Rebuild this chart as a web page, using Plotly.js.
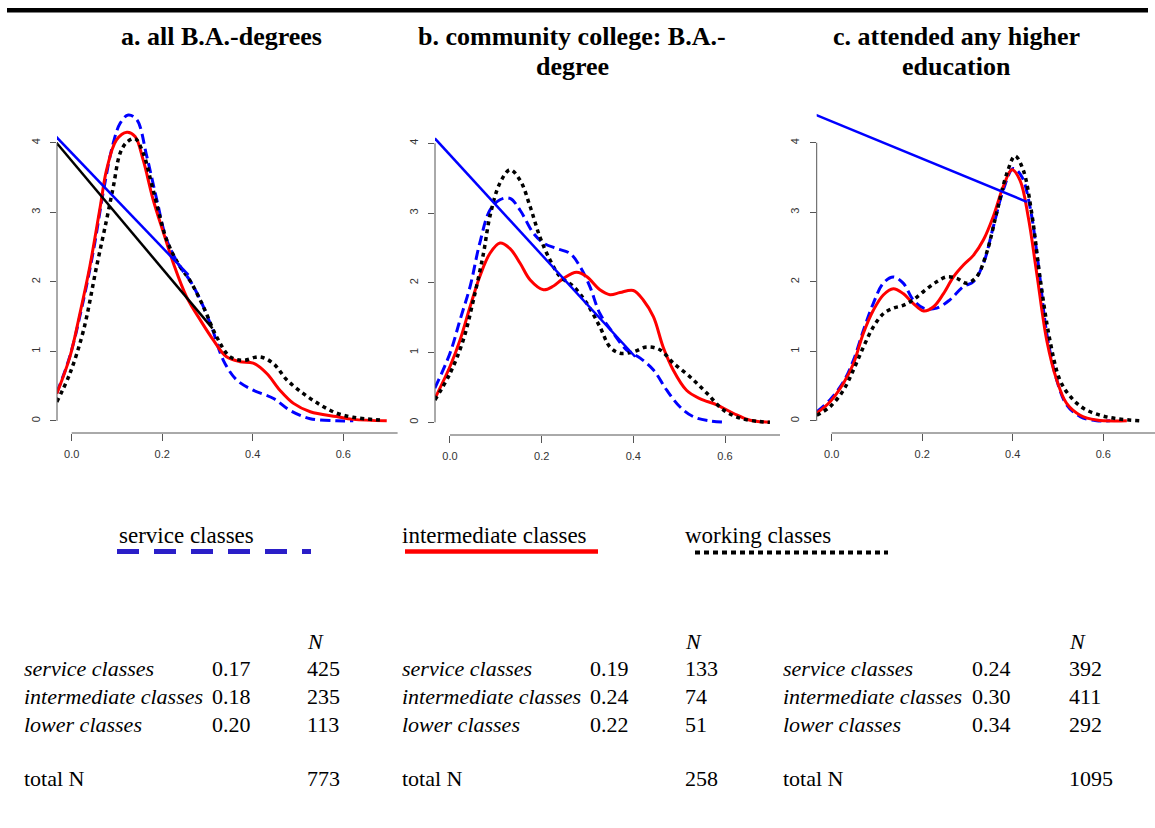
<!DOCTYPE html>
<html><head><meta charset="utf-8">
<script src="https://cdn.plot.ly/plotly-3.0.1.min.js"></script>
<style>html,body{margin:0;padding:0;background:#fff}#chart{width:1155px;height:828px}</style>
</head><body><div id="chart"></div><script>
// ---------- data ----------
const panelTitleLines = [["a. all B.A.-degrees"], ["b. community college: B.A.-", "degree"], ["c. attended any higher", "education"]];
const legendNames = ["service classes", "intermediate classes", "working classes"];
const xTickVals = [0, 0.2, 0.4, 0.6];
const xTickText = ["0.0", "0.2", "0.4", "0.6"];
const yTickVals = [0, 1, 2, 3, 4];

// panel a
const aServiceX = [-0.033, -0.004, 0.022, 0.048, 0.070, 0.090, 0.107, 0.125, 0.144, 0.166, 0.188, 0.210, 0.239, 0.261, 0.284, 0.309, 0.335, 0.364, 0.401, 0.446, 0.482, 0.527, 0.585, 0.622];
const aServiceY = [0.40, 0.93, 1.62, 2.45, 3.30, 3.95, 4.28, 4.40, 4.33, 3.80, 3.18, 2.60, 2.22, 2.02, 1.74, 1.35, 0.87, 0.59, 0.44, 0.32, 0.15, 0.03, 0.0, 0.0];
const aInterX = [-0.033, -0.004, 0.018, 0.040, 0.063, 0.077, 0.099, 0.122, 0.140, 0.158, 0.180, 0.203, 0.225, 0.254, 0.284, 0.313, 0.342, 0.372, 0.401, 0.431, 0.460, 0.490, 0.527, 0.585, 0.622, 0.696];
const aInterY = [0.39, 0.92, 1.54, 2.22, 3.08, 3.61, 4.04, 4.15, 4.09, 3.75, 3.18, 2.70, 2.26, 1.78, 1.45, 1.16, 0.92, 0.85, 0.83, 0.68, 0.44, 0.25, 0.13, 0.06, 0.02, 0.0];
const aWorkX = [-0.033, -0.004, 0.026, 0.055, 0.077, 0.092, 0.107, 0.122, 0.140, 0.158, 0.180, 0.210, 0.239, 0.261, 0.291, 0.320, 0.350, 0.379, 0.416, 0.446, 0.475, 0.512, 0.549, 0.585, 0.622, 0.681];
const aWorkY = [0.27, 0.68, 1.30, 2.22, 2.89, 3.37, 3.85, 4.01, 4.06, 3.85, 3.32, 2.60, 2.22, 2.02, 1.64, 1.21, 0.92, 0.87, 0.92, 0.82, 0.59, 0.39, 0.23, 0.11, 0.05, 0.01];
const aLineBlueX = [-0.035, 0.258], aLineBlueY = [4.09, 2.10];
const aLineBlackX = [-0.035, 0.311], aLineBlackY = [4.01, 1.33];

// panel b
const bServiceX = [-0.033, 0.0, 0.022, 0.044, 0.065, 0.087, 0.109, 0.131, 0.153, 0.182, 0.204, 0.233, 0.262, 0.284, 0.305, 0.327, 0.356, 0.385, 0.415, 0.444, 0.473, 0.502, 0.531, 0.567, 0.604];
const bServiceY = [0.49, 0.99, 1.47, 1.95, 2.57, 3.04, 3.19, 3.21, 3.04, 2.71, 2.57, 2.49, 2.42, 2.23, 1.95, 1.56, 1.28, 1.04, 0.92, 0.75, 0.46, 0.22, 0.08, 0.02, 0.0];
const bInterX = [-0.033, 0.0, 0.022, 0.044, 0.065, 0.087, 0.109, 0.131, 0.153, 0.175, 0.204, 0.225, 0.247, 0.276, 0.298, 0.327, 0.349, 0.371, 0.400, 0.422, 0.444, 0.465, 0.487, 0.516, 0.545, 0.582, 0.618, 0.655, 0.698];
const bInterY = [0.34, 0.80, 1.18, 1.66, 2.09, 2.42, 2.57, 2.49, 2.28, 2.04, 1.90, 1.95, 2.06, 2.15, 2.09, 1.90, 1.83, 1.86, 1.89, 1.75, 1.51, 1.08, 0.75, 0.46, 0.34, 0.25, 0.13, 0.03, 0.0];
const bWorkX = [-0.033, 0.0, 0.029, 0.051, 0.073, 0.087, 0.109, 0.131, 0.153, 0.175, 0.196, 0.218, 0.240, 0.269, 0.298, 0.327, 0.349, 0.371, 0.400, 0.429, 0.458, 0.487, 0.524, 0.560, 0.596, 0.633, 0.676, 0.698];
const bWorkY = [0.32, 0.70, 1.18, 1.75, 2.42, 2.95, 3.43, 3.62, 3.47, 3.09, 2.66, 2.33, 2.09, 1.95, 1.71, 1.37, 1.08, 0.99, 1.01, 1.08, 1.04, 0.85, 0.65, 0.42, 0.18, 0.06, 0.01, 0.0];
const bLineBlueX = [-0.033, 0.404], bLineBlueY = [4.07, 0.94];

// panel c
const cServiceX = [-0.033, -0.004, 0.026, 0.048, 0.070, 0.092, 0.114, 0.136, 0.158, 0.180, 0.203, 0.232, 0.261, 0.291, 0.313, 0.335, 0.357, 0.379, 0.401, 0.420, 0.438, 0.457, 0.475, 0.497, 0.519, 0.549, 0.585, 0.615];
const cServiceY = [0.13, 0.30, 0.56, 0.87, 1.30, 1.69, 1.98, 2.07, 1.98, 1.74, 1.62, 1.62, 1.74, 1.93, 2.00, 2.26, 2.79, 3.32, 3.63, 3.51, 3.08, 2.22, 1.26, 0.59, 0.23, 0.06, 0.0, 0.0];
const cInterX = [-0.033, -0.004, 0.026, 0.048, 0.070, 0.092, 0.114, 0.136, 0.158, 0.180, 0.203, 0.225, 0.247, 0.269, 0.291, 0.313, 0.335, 0.357, 0.379, 0.398, 0.416, 0.434, 0.453, 0.475, 0.497, 0.519, 0.549, 0.585, 0.652];
const cInterY = [0.11, 0.27, 0.54, 0.82, 1.26, 1.59, 1.81, 1.90, 1.83, 1.69, 1.58, 1.64, 1.83, 2.07, 2.24, 2.38, 2.60, 2.94, 3.37, 3.61, 3.46, 2.94, 2.12, 1.16, 0.59, 0.25, 0.08, 0.01, 0.0];
const cWorkX = [-0.033, -0.004, 0.026, 0.048, 0.070, 0.092, 0.114, 0.136, 0.158, 0.180, 0.203, 0.232, 0.254, 0.276, 0.298, 0.320, 0.342, 0.364, 0.387, 0.405, 0.423, 0.442, 0.460, 0.482, 0.504, 0.527, 0.556, 0.593, 0.630, 0.681];
const cWorkY = [0.08, 0.20, 0.44, 0.73, 1.06, 1.35, 1.54, 1.62, 1.66, 1.74, 1.86, 2.00, 2.07, 2.05, 1.98, 2.07, 2.41, 2.98, 3.56, 3.81, 3.61, 2.98, 2.07, 1.16, 0.59, 0.35, 0.18, 0.08, 0.03, 0.0];
const cLineBlueX = [-0.035, 0.431], cLineBlueY = [4.40, 3.15];

// tables
const tableLabels = ["service classes", "intermediate classes", "lower classes"];
const aShares = ["0.17", "0.18", "0.20"], aN = [425, 235, 113], aTotal = 773;
const bShares = ["0.19", "0.24", "0.22"], bN = [133, 74, 51], bTotal = 258;
const cShares = ["0.24", "0.30", "0.34"], cN = [392, 411, 292], cTotal = 1095;

// ---------- layout geometry ----------
const W = 1155, H = 828;
const panels = [
  {xpx: [57, 397.6], xr: [-0.0325, 0.72], ypx: [108, 433], yr: [-0.176, 4.5], titleX: 221, titleBase: [45], tab: [22, 210, 305],
   series: [[aServiceX, aServiceY], [aInterX, aInterY], [aWorkX, aWorkY]],
   lines: [[aLineBlueX, aLineBlueY, '#0000ff'], [aLineBlackX, aLineBlackY, '#000000']], shares: aShares, ns: aN, total: aTotal},
  {xpx: [435, 780], xr: [-0.0327, 0.72], ypx: [108.4, 435], yr: [-0.182, 4.5], titleX: 572, titleBase: [45, 75], tab: [400, 588, 683],
   series: [[bServiceX, bServiceY], [bInterX, bInterY], [bWorkX, bWorkY]],
   lines: [[bLineBlueX, bLineBlueY, '#0000ff']], shares: bShares, ns: bN, total: bTotal},
  {xpx: [816.7, 1155], xr: [-0.0331, 0.7142], ypx: [108, 433], yr: [-0.176, 4.5], titleX: 956, titleBase: [45, 75], tab: [781, 970, 1067],
   series: [[cServiceX, cServiceY], [cInterX, cInterY], [cWorkX, cWorkY]],
   lines: [[cLineBlueX, cLineBlueY, '#0000ff']], shares: cShares, ns: cN, total: cTotal}
];

const styles = [
  {color: '#0000ff', dash: '10px,5px', width: 3},
  {color: '#ff0000', dash: 'solid', width: 3},
  {color: '#000000', dash: '4px,4px', width: 3.5}
];

const serif = "'Liberation Serif', 'Times New Roman', Times, serif";
const sans = "'Liberation Sans', Arial, sans-serif";
const traces = [];
const layout = {
  width: W, height: H, margin: {l: 0, r: 0, t: 0, b: 0},
  paper_bgcolor: '#fff', plot_bgcolor: '#fff', showlegend: false,
  shapes: [], annotations: []
};

function ann(text, px, base, fs, opts) {
  return Object.assign({
    text: text, xref: 'paper', yref: 'paper', x: px / W, y: 1 - (base - 0.31 * fs) / H,
    xanchor: 'left', yanchor: 'middle', showarrow: false,
    font: {family: serif, size: fs, color: '#000'}
  }, opts || {});
}

panels.forEach((p, i) => {
  const n = i + 1;
  const xa = 'x' + n, ya = 'y' + n;
  const xk = 'xaxis' + n, yk = 'yaxis' + n;
  layout[xk] = {
    domain: [p.xpx[0] / W, p.xpx[1] / W], range: p.xr, anchor: ya,
    showgrid: false, zeroline: false, showline: false,
    ticks: 'outside', ticklen: 7, tickwidth: 1, tickcolor: '#555',
    tickvals: xTickVals, ticktext: xTickText, ticklabelstandoff: 4,
    tickfont: {family: sans, size: 11, color: '#333'}, fixedrange: true
  };
  layout[yk] = {
    domain: [1 - p.ypx[1] / H, 1 - p.ypx[0] / H], range: p.yr, anchor: xa,
    showgrid: false, zeroline: false, showline: false,
    ticks: 'outside', ticklen: 6, tickwidth: 1, tickcolor: '#555',
    tickvals: yTickVals, tickangle: -90, ticklabelstandoff: 6,
    tickfont: {family: sans, size: 11, color: '#333'}, fixedrange: true
  };
  // axis lines (R-style, limited extent)
  const yf = v => (v - p.yr[0]) / (p.yr[1] - p.yr[0]);
  const xf = v => (v - p.xr[0]) / (p.xr[1] - p.xr[0]);
  layout.shapes.push({type: 'line', xref: xa + ' domain', yref: ya + ' domain', x0: 0, x1: 0, y0: yf(0), y1: yf(4), line: {color: '#555', width: 1}});
  layout.shapes.push({type: 'line', xref: xa + ' domain', yref: ya + ' domain', x0: xf(0), x1: xf(0.72), y0: 0, y1: 0, line: {color: '#555', width: 1}});

  // density curves
  p.series.forEach((s, k) => {
    traces.push({
      type: 'scatter', mode: 'lines', x: s[0], y: s[1], xaxis: xa, yaxis: ya,
      name: legendNames[k], hoverinfo: 'skip',
      line: {color: styles[k].color, dash: styles[k].dash, width: styles[k].width, shape: 'spline', smoothing: 1}
    });
  });
  p.lines.forEach(l => {
    traces.push({type: 'scatter', mode: 'lines', x: l[0], y: l[1], xaxis: xa, yaxis: ya, hoverinfo: 'skip',
      line: {color: l[2], width: 2.5}});
  });

  // titles
  panelTitleLines[i].forEach((t, j) => {
    layout.annotations.push(ann('<b>' + t + '</b>', p.titleX, p.titleBase[j], 26, {xanchor: 'center'}));
  });

  // table
  const fs = 22;
  layout.annotations.push(ann('<i>N</i>', p.tab[2], 648, fs));
  const rowBase = [675, 703, 731];
  tableLabels.forEach((lab, r) => {
    layout.annotations.push(ann('<i>' + lab + '</i>', p.tab[0], rowBase[r], fs));
    layout.annotations.push(ann(p.shares[r], p.tab[1], rowBase[r], fs));
    layout.annotations.push(ann(String(p.ns[r]), p.tab[2], rowBase[r], fs));
  });
  layout.annotations.push(ann('total N', p.tab[0], 785, fs));
  layout.annotations.push(ann(String(p.total), p.tab[2], 785, fs));
});

// top rule
layout.shapes.push({type: 'rect', xref: 'paper', yref: 'paper', x0: 7 / W, x1: 1148 / W, y0: 1 - 12.5 / H, y1: 1 - 8 / H, fillcolor: '#000', line: {width: 0}});

// legend
const legendX = [117, 400, 683];
const legendLine = [[117, 311, 'rgb(42,30,200)', '22px,15px', 5, 551.5], [405, 598, '#ff0000', 'solid', 4.5, 551.5], [695, 888, '#000000', '5px,4px', 4, 552.5]];
legendNames.forEach((nm, k) => {
  layout.annotations.push(ann(nm, legendX[k], 543, 23));
  const L = legendLine[k];
  layout.shapes.push({type: 'line', xref: 'paper', yref: 'paper', x0: L[0] / W, x1: L[1] / W, y0: 1 - L[5] / H, y1: 1 - L[5] / H,
    line: {color: L[2], width: L[4], dash: L[3]}});
});

Plotly.newPlot('chart', traces, layout, {displayModeBar: false, staticPlot: true});
</script></body></html>
